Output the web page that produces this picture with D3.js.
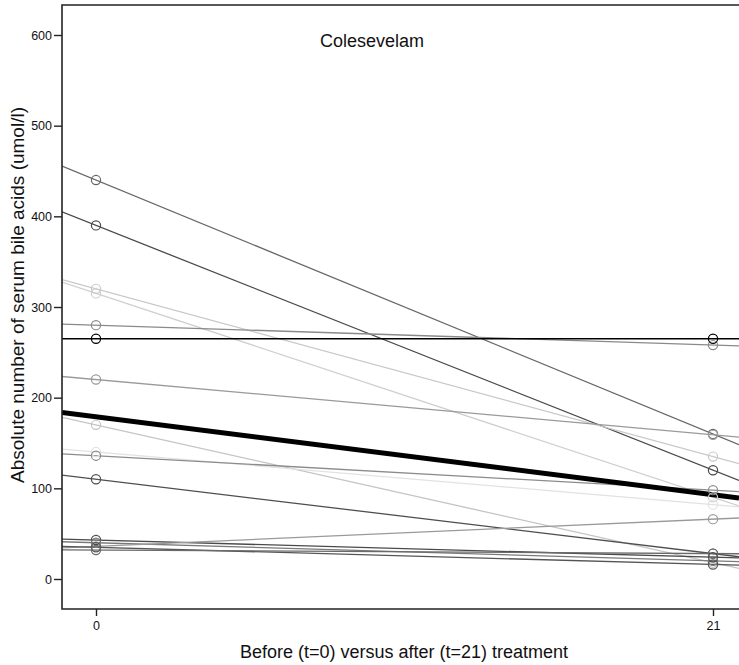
<!DOCTYPE html>
<html>
<head>
<meta charset="utf-8">
<script src="https://cdn.jsdelivr.net/npm/d3@7"></script>
<style>
  html, body { margin: 0; padding: 0; background: #fff; }
  svg { display: block; }
  text { font-family: "Liberation Sans", Arial, sans-serif; fill: #111; }
</style>
</head>
<body>
<svg id="chart" width="739" height="665"></svg>
<script>
// Serum bile acids per subject, before (day 0) and after (day 21) colesevelam
const timepoints = [0, 21];
const subjectIds = ["s01","s02","s03","s04","s05","s06","s07","s08","s09","s10","s11","s12","s13","s14","s15","s16"];
const before = [440, 390, 320, 315, 280, 265, 220, 170, 140, 136, 110, 43, 40, 36, 35, 32];
const after  = [160, 120, 135,  90, 258, 265, 159,  18,  82,  98,  28, 24, 20, 66, 16, 28];
const subjectTone = ["#666666","#4a4a4a","#c8c8c8","#cfcfcf","#8a8a8a","#000000","#9a9a9a","#c4c4c4","#e2e2e2","#8c8c8c","#4e4e4e","#4a4a4a","#7a7a7a","#9a9a9a","#555555","#6a6a6a"];
const groupMean = [179, 93];
const yTicks = [0, 100, 200, 300, 400, 500, 600];
const xTicks = [0, 21];

const svg = d3.select("#chart");
const panel = { left: 62, right: 739, top: 5, bottom: 609 };

const x = d3.scaleLinear().domain([0, 21]).range([96, 713]);
const y = d3.scaleLinear().domain([0, 600]).range([579, 35]);
const xMin = x.invert(panel.left), xMax = x.invert(panel.right);

svg.append("defs").append("clipPath").attr("id", "plotClip")
  .append("rect").attr("x", panel.left).attr("y", panel.top)
  .attr("width", panel.right - panel.left).attr("height", panel.bottom - panel.top);

const plot = svg.append("g").attr("clip-path", "url(#plotClip)");

// each subject's change drawn as a straight line across the whole panel
const lineAt = (v0, v1, t) => v0 + (v1 - v0) * (t - timepoints[0]) / (timepoints[1] - timepoints[0]);
const rows = subjectIds.map((id, i) => ({ id, v0: before[i], v1: after[i], tone: subjectTone[i] }));
const drawOrder = rows.filter(r => r.tone !== "#000000").concat(rows.filter(r => r.tone === "#000000"));

plot.selectAll("line.subject").data(drawOrder).join("line")
  .attr("class", "subject")
  .attr("x1", x(xMin)).attr("x2", x(xMax))
  .attr("y1", d => y(lineAt(d.v0, d.v1, xMin)))
  .attr("y2", d => y(lineAt(d.v0, d.v1, xMax)))
  .attr("stroke", d => d.tone).attr("stroke-width", 1.3).attr("fill", "none");

// group mean line
plot.append("line")
  .attr("x1", x(xMin)).attr("x2", x(xMax))
  .attr("y1", y(lineAt(groupMean[0], groupMean[1], xMin)))
  .attr("y2", y(lineAt(groupMean[0], groupMean[1], xMax)))
  .attr("stroke", "#000").attr("stroke-width", 5);

// measured points
const pts = [];
drawOrder.forEach(r => {
  pts.push({ t: timepoints[0], v: r.v0, tone: r.tone });
  pts.push({ t: timepoints[1], v: r.v1, tone: r.tone });
});
plot.selectAll("circle.pt").data(pts).join("circle")
  .attr("class", "pt")
  .attr("cx", d => x(d.t)).attr("cy", d => y(d.v)).attr("r", 4.6)
  .attr("fill", "none").attr("stroke", d => d.tone).attr("stroke-width", 1.2);

// frame
svg.append("path")
  .attr("d", `M${panel.right},${panel.top}H${panel.left}V${panel.bottom}H${panel.right}`)
  .attr("fill", "none").attr("stroke", "#222").attr("stroke-width", 1.6);

// y axis
const yAxis = svg.append("g").attr("transform", `translate(${panel.left},0)`)
  .call(d3.axisLeft(y).tickValues(yTicks).tickSize(8).tickPadding(2));
yAxis.select(".domain").remove();
yAxis.selectAll(".tick line").attr("stroke", "#222").attr("stroke-width", 1.4);
yAxis.selectAll(".tick text").style("font-size", "12.5px").style("font-family", "Liberation Sans, Arial, sans-serif").attr("fill", "#111");

// x axis
const xAxis = svg.append("g").attr("transform", `translate(0,${panel.bottom})`)
  .call(d3.axisBottom(x).tickValues(xTicks).tickSize(7).tickPadding(5));
xAxis.select(".domain").remove();
xAxis.selectAll(".tick line").attr("stroke", "#222").attr("stroke-width", 1.4);
xAxis.selectAll(".tick text").style("font-size", "12.5px").style("font-family", "Liberation Sans, Arial, sans-serif").attr("fill", "#111");

// labels
svg.append("text").attr("x", 320).attr("y", 47).style("font-size", "18px").text("Colesevelam");
svg.append("text").attr("x", 404).attr("y", 658).attr("text-anchor", "middle").style("font-size", "18px")
  .text("Before (t=0) versus after (t=21) treatment");
svg.append("text").attr("transform", "translate(24,295) rotate(-90)").attr("text-anchor", "middle").style("font-size", "19px")
  .text("Absolute number of serum bile acids (umol/l)");
</script>
</body>
</html>
